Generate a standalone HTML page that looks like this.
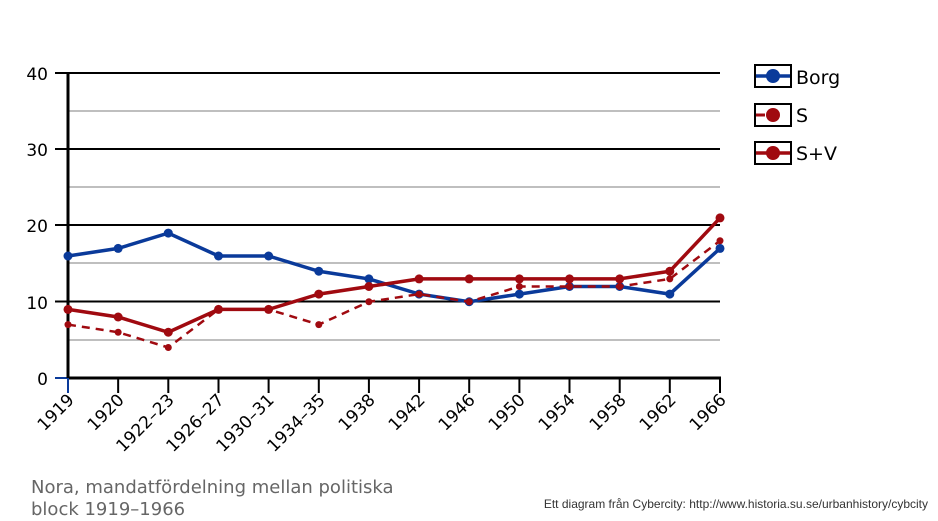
<!DOCTYPE html>
<html><head><meta charset="utf-8"><style>body{margin:0;background:#fff}svg{display:block}text{font-family:"DejaVu Sans","Liberation Sans",sans-serif}</style></head><body>
<svg width="938" height="521" viewBox="0 0 938 521" xmlns="http://www.w3.org/2000/svg">
<g stroke="#999" stroke-width="1.2">
<line x1="68" y1="111" x2="720" y2="111"/><line x1="68" y1="187" x2="720" y2="187"/><line x1="68" y1="263" x2="720" y2="263"/><line x1="68" y1="340" x2="720" y2="340"/>
</g>
<g stroke="#000" stroke-width="2">
<line x1="55" y1="73" x2="720" y2="73"/><line x1="55" y1="149" x2="720" y2="149"/><line x1="55" y1="225" x2="720" y2="225"/><line x1="55" y1="301.5" x2="720" y2="301.5"/>
</g>
<line x1="55" y1="378" x2="68" y2="378" stroke="#0a3a9a" stroke-width="2"/>
<line x1="68" y1="73" x2="68" y2="378" stroke="#000" stroke-width="3"/>
<line x1="68" y1="378" x2="721" y2="378" stroke="#000" stroke-width="3"/>
<g stroke="#000" stroke-width="2">
<line x1="68" y1="378" x2="68" y2="393" stroke="#0a3a9a"/><line x1="118.15" y1="378" x2="118.15" y2="393"/><line x1="168.3" y1="378" x2="168.3" y2="393"/><line x1="218.5" y1="378" x2="218.5" y2="393"/><line x1="268.6" y1="378" x2="268.6" y2="393"/><line x1="318.8" y1="378" x2="318.8" y2="393"/><line x1="368.9" y1="378" x2="368.9" y2="393"/><line x1="419.1" y1="378" x2="419.1" y2="393"/><line x1="469.2" y1="378" x2="469.2" y2="393"/><line x1="519.4" y1="378" x2="519.4" y2="393"/><line x1="569.5" y1="378" x2="569.5" y2="393"/><line x1="619.7" y1="378" x2="619.7" y2="393"/><line x1="669.8" y1="378" x2="669.8" y2="393"/><line x1="720" y1="378" x2="720" y2="393"/>
</g>
<g font-size="17" text-anchor="end" fill="#000">
<text x="48" y="80">40</text><text x="48" y="156">30</text><text x="48" y="232">20</text><text x="48" y="309">10</text><text x="48" y="385">0</text>
</g>
<g font-size="17" text-anchor="end" fill="#000">
<text transform="translate(75,401) rotate(-45)">1919</text>
<text transform="translate(125,401) rotate(-45)">1920</text>
<text transform="translate(175,401) rotate(-45)">1922–23</text>
<text transform="translate(225,401) rotate(-45)">1926–27</text>
<text transform="translate(275,401) rotate(-45)">1930–31</text>
<text transform="translate(326,401) rotate(-45)">1934–35</text>
<text transform="translate(376,401) rotate(-45)">1938</text>
<text transform="translate(426,401) rotate(-45)">1942</text>
<text transform="translate(476,401) rotate(-45)">1946</text>
<text transform="translate(526,401) rotate(-45)">1950</text>
<text transform="translate(576,401) rotate(-45)">1954</text>
<text transform="translate(627,401) rotate(-45)">1958</text>
<text transform="translate(677,401) rotate(-45)">1962</text>
<text transform="translate(727,401) rotate(-45)">1966</text>
</g>
<polyline fill="none" stroke="#0a3a9a" stroke-width="3.5" points="68,256 118.15,248.4 168.3,233.1 218.5,256 268.6,256 318.8,271.25 368.9,278.9 419.1,294.1 469.2,301.75 519.4,294.1 569.5,286.5 619.7,286.5 669.8,294.1 720,248.4"/>
<g fill="#0a3a9a"><circle cx="68" cy="256" r="4.5"/><circle cx="118.15" cy="248.4" r="4.5"/><circle cx="168.3" cy="233.1" r="4.5"/><circle cx="218.5" cy="256" r="4.5"/><circle cx="268.6" cy="256" r="4.5"/><circle cx="318.8" cy="271.25" r="4.5"/><circle cx="368.9" cy="278.9" r="4.5"/><circle cx="419.1" cy="294.1" r="4.5"/><circle cx="469.2" cy="301.75" r="4.5"/><circle cx="519.4" cy="294.1" r="4.5"/><circle cx="569.5" cy="286.5" r="4.5"/><circle cx="619.7" cy="286.5" r="4.5"/><circle cx="669.8" cy="294.1" r="4.5"/><circle cx="720" cy="248.4" r="4.5"/></g>
<polyline fill="none" stroke="#a00a10" stroke-width="2.5" stroke-dasharray="8,6" points="68,324.6 118.15,332.25 168.3,347.5 218.5,309.4 268.6,309.4 318.8,324.6 368.9,301.75 419.1,294.1 469.2,301.75 519.4,286.5 569.5,286.5 619.7,286.5 669.8,278.9 720,240.75"/>
<g fill="#a00a10"><circle cx="68" cy="324.6" r="3.5"/><circle cx="118.15" cy="332.25" r="3.5"/><circle cx="168.3" cy="347.5" r="3.5"/><circle cx="218.5" cy="309.4" r="3.5"/><circle cx="268.6" cy="309.4" r="3.5"/><circle cx="318.8" cy="324.6" r="3.5"/><circle cx="368.9" cy="301.75" r="3.5"/><circle cx="419.1" cy="294.1" r="3.5"/><circle cx="469.2" cy="301.75" r="3.5"/><circle cx="519.4" cy="286.5" r="3.5"/><circle cx="569.5" cy="286.5" r="3.5"/><circle cx="619.7" cy="286.5" r="3.5"/><circle cx="669.8" cy="278.9" r="3.5"/><circle cx="720" cy="240.75" r="3.5"/></g>
<polyline fill="none" stroke="#a00a10" stroke-width="3.5" points="68,309.4 118.15,317 168.3,332.25 218.5,309.4 268.6,309.4 318.8,294.1 368.9,286.5 419.1,278.9 469.2,278.9 519.4,278.9 569.5,278.9 619.7,278.9 669.8,271.25 720,217.9"/>
<g fill="#a00a10"><circle cx="68" cy="309.4" r="4.5"/><circle cx="118.15" cy="317" r="4.5"/><circle cx="168.3" cy="332.25" r="4.5"/><circle cx="218.5" cy="309.4" r="4.5"/><circle cx="268.6" cy="309.4" r="4.5"/><circle cx="318.8" cy="294.1" r="4.5"/><circle cx="368.9" cy="286.5" r="4.5"/><circle cx="419.1" cy="278.9" r="4.5"/><circle cx="469.2" cy="278.9" r="4.5"/><circle cx="519.4" cy="278.9" r="4.5"/><circle cx="569.5" cy="278.9" r="4.5"/><circle cx="619.7" cy="278.9" r="4.5"/><circle cx="669.8" cy="271.25" r="4.5"/><circle cx="720" cy="217.9" r="4.5"/></g>
<g>
<rect x="755" y="65" width="36" height="22" fill="#fff" stroke="#000" stroke-width="2"/>
<line x1="756" y1="76" x2="790" y2="76" stroke="#0a3a9a" stroke-width="3.5"/><circle cx="773" cy="76" r="7" fill="#0a3a9a"/>
<text x="796" y="84" font-size="19">Borg</text>
<rect x="755" y="104" width="36" height="22" fill="#fff" stroke="#000" stroke-width="2"/>
<line x1="756" y1="115" x2="765" y2="115" stroke="#a00a10" stroke-width="3"/><circle cx="773" cy="115" r="7" fill="#a00a10"/>
<text x="796" y="122" font-size="19">S</text>
<rect x="755" y="142" width="36" height="22" fill="#fff" stroke="#000" stroke-width="2"/>
<line x1="756" y1="153" x2="790" y2="153" stroke="#a00a10" stroke-width="3.5"/><circle cx="773" cy="153" r="7" fill="#a00a10"/>
<text x="796" y="160" font-size="19">S+V</text>
</g>
<text x="31" y="493" font-size="18" fill="#666">Nora, mandatfördelning mellan politiska</text>
<text x="31" y="515" font-size="18" fill="#666">block 1919–1966</text>
<text x="928" y="508" font-size="12" text-anchor="end" fill="#333" style="font-family:'Liberation Sans',sans-serif">Ett diagram från Cybercity: http://www.historia.su.se/urbanhistory/cybcity</text>
</svg>
</body></html>
